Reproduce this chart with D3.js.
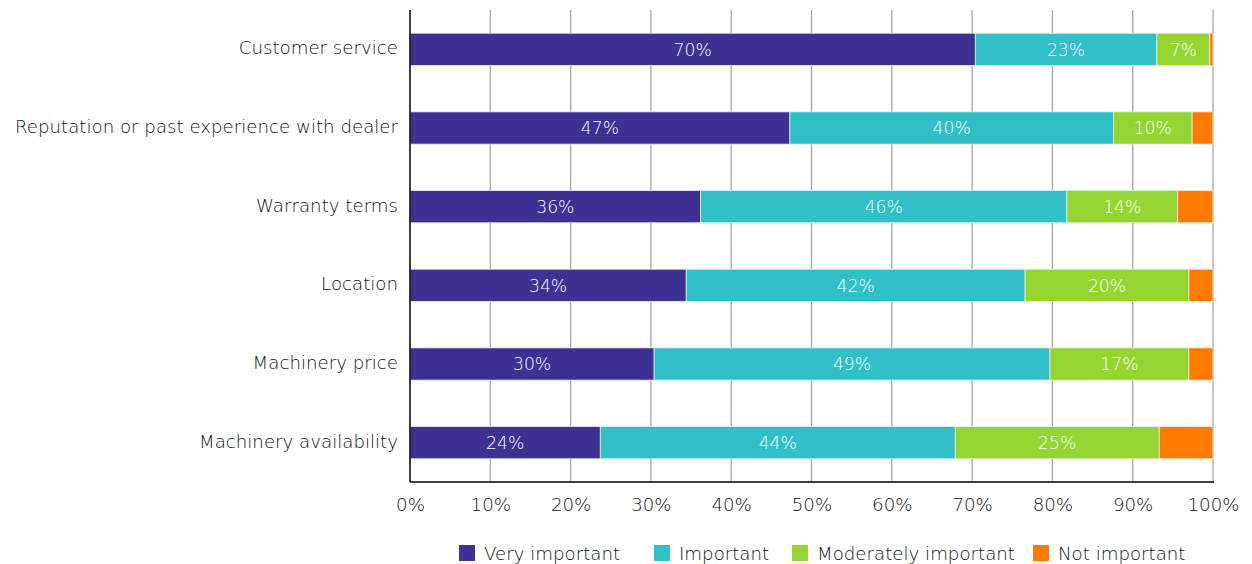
<!DOCTYPE html>
<html>
<head>
<meta charset="utf-8">
<script src="https://cdn.jsdelivr.net/npm/d3@7"></script>
<style>
  html, body { margin: 0; padding: 0; background: #fff; }
  svg text { font-family: "DejaVu Sans", sans-serif; font-weight: 200; }
</style>
</head>
<body>
<svg id="chart" width="1252" height="564"></svg>
<script>
// Factors rated when choosing a machinery dealer (share of respondents, %)
const categories = [
  "Customer service",
  "Reputation or past experience with dealer",
  "Warranty terms",
  "Location",
  "Machinery price",
  "Machinery availability"
];
const seriesNames = ["Very important", "Important", "Moderately important", "Not important"];
const veryImportant       = [70.4, 47.3, 36.2, 34.4, 30.4, 23.7];
const important           = [22.6, 40.3, 45.6, 42.2, 49.3, 44.2];
const moderatelyImportant = [6.6,   9.8, 13.8, 20.4, 17.3, 25.4];
const notImportant        = [0.4,   2.6,  4.4,  3.0,  3.0,  6.7];
const tickValues = [0, 10, 20, 30, 40, 50, 60, 70, 80, 90, 100];
const colors = ["#3d3193", "#31c0c8", "#95d531", "#ff7b00"];

const seriesValues = [veryImportant, important, moderatelyImportant, notImportant];
const rows = categories.map((c, i) => {
  const r = { category: c };
  seriesNames.forEach((s, k) => { r[s] = seriesValues[k][i]; });
  return r;
});

const svg = d3.select("#chart");
const margin = { left: 410, right: 39, top: 10, bottom: 82 };
const W = 1252, H = 564;
const x = d3.scaleLinear().domain([0, 100]).range([margin.left, W - margin.right]);
const y = d3.scaleBand().domain(categories).range([margin.top, H - margin.bottom]).paddingInner(0.59).paddingOuter(0.295);
const textColor = "#111111";
const fontSize = 18.2;

// vertical gridlines
svg.append("g").selectAll("line")
  .data(tickValues.filter(t => t > 0))
  .join("line")
  .attr("x1", d => x(d)).attr("x2", d => x(d))
  .attr("y1", margin.top).attr("y2", H - margin.bottom)
  .attr("stroke", "#a6a6a6").attr("stroke-width", 1.3);

// stacked bars
const stack = d3.stack().keys(seriesNames)(rows);
const layers = svg.append("g").selectAll("g")
  .data(stack)
  .join("g")
  .attr("fill", (d, i) => colors[i]);

layers.selectAll("rect")
  .data(d => d)
  .join("rect")
  .attr("x", d => x(d[0]))
  .attr("y", d => y(d.data.category))
  .attr("width", d => x(d[1]) - x(d[0]))
  .attr("height", y.bandwidth())
  .attr("stroke", "#e8eef2").attr("stroke-width", 0.8);

// value labels inside the first three segments
layers.filter((d, i) => i < 3).selectAll("text")
  .data(d => d)
  .join("text")
  .attr("x", d => (x(d[0]) + x(d[1])) / 2)
  .attr("y", d => y(d.data.category) + y.bandwidth() / 2)
  .attr("dy", "0.36em")
  .attr("text-anchor", "middle")
  .attr("fill", "#ffffff")
  .attr("font-size", 17.2)
  .style("font-weight", 300)
  .text(d => d3.format(".0f")(d[1] - d[0]) + "%");

// category axis
const yAxis = svg.append("g")
  .attr("transform", `translate(${margin.left},0)`)
  .call(d3.axisLeft(y).tickSize(0).tickPadding(12));
yAxis.select(".domain").attr("stroke", "#000").attr("stroke-width", 1.5)
  .attr("d", `M0,${margin.top}V${H - margin.bottom}`);
yAxis.selectAll("text").attr("font-size", fontSize).attr("fill", textColor)
  .style("font-family", "DejaVu Sans").attr("dy", "0.28em");

// percentage axis
const xAxis = svg.append("g")
  .attr("transform", `translate(0,${H - margin.bottom})`)
  .call(d3.axisBottom(x).tickValues(tickValues).tickFormat(d => d + "%").tickSize(0).tickPadding(16));
xAxis.select(".domain").attr("stroke", "#000").attr("stroke-width", 1.5)
  .attr("d", `M${margin.left},0H${x(100) + 1}`);
xAxis.selectAll("text").attr("font-size", fontSize).attr("fill", textColor)
  .style("font-family", "DejaVu Sans");

// legend
const legendX = [459, 654, 792, 1033];
const legend = svg.append("g").selectAll("g")
  .data(seriesNames)
  .join("g")
  .attr("transform", (d, i) => `translate(${legendX[i]},545)`);
legend.append("rect").attr("width", 16).attr("height", 16).attr("fill", (d, i) => colors[i]);
legend.append("text")
  .attr("x", 25).attr("y", 8).attr("dy", "0.36em")
  .attr("font-size", fontSize).attr("fill", textColor)
  .text(d => d);
</script>
</body>
</html>
